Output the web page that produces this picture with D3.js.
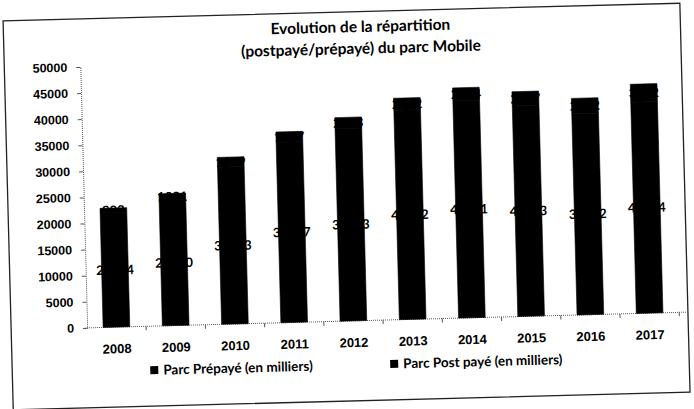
<!DOCTYPE html>
<html>
<head>
<meta charset="utf-8">
<script src="https://cdn.jsdelivr.net/npm/d3@7"></script>
<style>
  body { margin: 0; background: #fff; }
  svg { display: block; font-family: Lato, "Open Sans", sans-serif; }
</style>
</head>
<body>
<div id="chart"></div>
<script>
// Data (thousands)
const years = ["2008", "2009", "2010", "2011", "2012", "2013", "2014", "2015", "2016", "2017"];
const prepaid = [21914, 24090, 30093, 34577, 36913, 40112, 41611, 40333, 38552, 40484];
const postpaid = [902, 1221, 1889, 1977, 2103, 2312, 2504, 2747, 2962, 3432];
const yTicks = [0, 5000, 10000, 15000, 20000, 25000, 30000, 35000, 40000, 45000, 50000];
const seriesNames = ["Parc Prépayé (en milliers)", "Parc Post payé (en milliers)"];
const titleLines = ["Evolution de la répartition", "(postpayé/prépayé) du parc Mobile"];

const W = 694, H = 409;
const svg = d3.select("#chart").append("svg")
  .attr("width", W)
  .attr("height", H);

// the scan is slightly tilted
const page = svg.append("g")
  .attr("transform", "rotate(-1.5," + W / 2 + "," + H / 2 + ")");

// frame
page.append("rect")
  .attr("x", 8).attr("y", 12)
  .attr("width", 677).attr("height", 389)
  .attr("fill", "none")
  .attr("stroke", "#222")
  .attr("stroke-width", 1.3);

// scales
const x = d3.scaleBand()
  .domain(years)
  .range([84, 676])
  .paddingInner(0.55)
  .paddingOuter(0.27);

const y = d3.scaleLinear()
  .domain([0, 50000])
  .range([321, 60]);

// stack the two series
const rows = years.map((yr, i) => ({ year: yr, pre: prepaid[i], post: postpaid[i] }));
const stacked = d3.stack().keys(["pre", "post"])(rows);
const colors = ["#000", "#000"];

// Y axis
const yAxis = page.append("g")
  .attr("transform", "translate(84,0)")
  .call(d3.axisLeft(y).tickValues(yTicks).tickSize(4).tickPadding(9).tickFormat(d3.format("d")));
yAxis.select(".domain").attr("stroke", "#555").attr("stroke-dasharray", "1,1");
yAxis.selectAll(".tick line").attr("stroke", "#555");
yAxis.selectAll("text")
  .attr("font-size", 12.5)
  .attr("font-weight", "bold")
  .attr("fill", "#000");

// X axis
const xAxis = page.append("g")
  .attr("transform", "translate(0," + y(0) + ")")
  .call(d3.axisBottom(x).tickSize(0).tickPadding(17));
xAxis.select(".domain")
  .attr("stroke", "#555")
  .attr("stroke-dasharray", "1,1")
  .attr("d", "M84,0H684");
xAxis.selectAll("text")
  .attr("font-size", 13)
  .attr("font-weight", "bold")
  .attr("fill", "#000");

// category separator ticks
const gap = x.step() * x.paddingInner() / 2;
page.append("g").selectAll("line")
  .data(years)
  .enter().append("line")
  .attr("x1", (d) => x(d) + x.bandwidth() + gap)
  .attr("x2", (d) => x(d) + x.bandwidth() + gap)
  .attr("y1", y(0))
  .attr("y2", y(0) + 4)
  .attr("stroke", "#555");

// bars
const layers = page.selectAll(".layer")
  .data(stacked)
  .enter().append("g")
  .attr("class", "layer")
  .attr("fill", (d, i) => colors[i])
  .attr("stroke", (d, i) => colors[i])
  .attr("stroke-width", 0.6);

layers.selectAll("rect")
  .data((d) => d)
  .enter().append("rect")
  .attr("x", (d) => x(d.data.year))
  .attr("y", (d) => y(d[1]))
  .attr("width", x.bandwidth())
  .attr("height", (d) => y(d[0]) - y(d[1]));

// data labels (black on black, like the original)
layers.selectAll("text")
  .data((d) => d)
  .enter().append("text")
  .attr("x", (d) => x(d.data.year) + x.bandwidth() / 2)
  .attr("y", (d) => (y(d[0]) + y(d[1])) / 2)
  .attr("dy", "0.35em")
  .attr("text-anchor", "middle")
  .attr("font-size", 13)
  .attr("font-weight", "bold")
  .attr("stroke", "none")
  .attr("fill", "#000")
  .text((d) => d[1] - d[0]);

// title
page.append("text")
  .attr("x", 365)
  .attr("y", 27)
  .attr("text-anchor", "middle")
  .attr("font-size", 15.5)
  .attr("font-weight", "bold")
  .attr("fill", "#000")
  .selectAll("tspan")
  .data(titleLines)
  .enter().append("tspan")
  .attr("x", 365)
  .attr("dy", (d, i) => i === 0 ? "0.35em" : "1.4em")
  .text((d) => d);

// legend
const legendX = [146, 386];
const legend = page.append("g").selectAll("g")
  .data(seriesNames)
  .enter().append("g")
  .attr("transform", (d, i) => "translate(" + legendX[i] + ",365)");

legend.append("rect")
  .attr("x", 0).attr("y", -4)
  .attr("width", 8).attr("height", 8)
  .attr("fill", (d, i) => colors[i]);

legend.append("text")
  .attr("x", 13)
  .attr("dy", "0.35em")
  .attr("font-size", 13.5)
  .attr("font-weight", "bold")
  .attr("fill", "#000")
  .text((d) => d);
</script>
</body>
</html>
